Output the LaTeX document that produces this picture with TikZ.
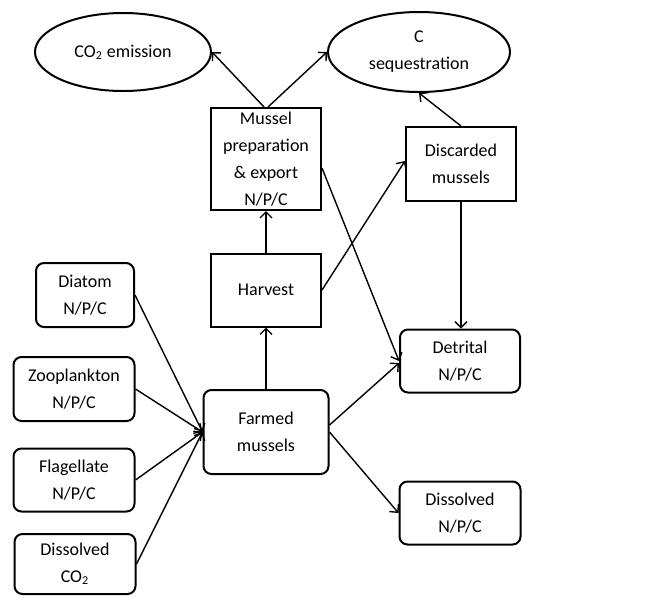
\documentclass[tikz,border=0pt]{standalone}
\usepackage{fontspec}
\setmainfont{Carlito}
\usetikzlibrary{shapes.geometric, arrows, arrows.meta}

\begin{document}
\begin{tikzpicture}[x=0.5pt, y=-0.5pt,
    every node/.style={font=\fontsize{9}{13.5}\selectfont, align=center, inner sep=0pt},
    pool/.style={draw, line width=1pt, rounded corners=4pt},
    process/.style={draw, line width=1pt},
    sink/.style={draw, ellipse, line width=1pt},
    flow/.style={-{Straight Barb[length=3pt, width=6pt]}, line width=0.7pt}]
    \useasboundingbox (0,0) rectangle (646,596);

    % Top: fates of carbon
    \node[sink, minimum width=88pt, minimum height=39pt] (emis) at (123,52) {CO\textsubscript{2} emission};
    \node[sink, minimum width=91pt, minimum height=40pt] (seq) at (419,52) {C\\sequestration};

    % Middle column
    \node[process, minimum width=55pt, minimum height=51pt] (prep) at (266,159) {Mussel\\preparation\\\& export\\N/P/C};
    \node[process, minimum width=55pt, minimum height=36.5pt] (harv) at (266,290) {Harvest};
    \node[pool, minimum width=62.5pt, minimum height=42pt] (farm) at (266,432) {Farmed\\mussels};
    \node[process, minimum width=55pt, minimum height=37pt] (disc) at (461,164) {Discarded\\mussels};

    % Food sources
    \node[pool, minimum width=49pt, minimum height=32pt] (diat) at (85,295) {Diatom\\N/P/C};
    \node[pool, minimum width=60.5pt, minimum height=32pt] (zoo) at (74,389) {Zooplankton\\N/P/C};
    \node[pool, minimum width=60.5pt, minimum height=31.5pt] (flag) at (74,480) {Flagellate\\N/P/C};
    \node[pool, minimum width=60.5pt, minimum height=30pt] (dco) at (75,564) {Dissolved\\CO\textsubscript{2}};

    % Returns to the water
    \node[pool, minimum width=60pt, minimum height=31.5pt] (detr) at (460,361) {Detrital\\N/P/C};
    \node[pool, minimum width=60.5pt, minimum height=31.5pt] (diss) at (460,513) {Dissolved\\N/P/C};

    % Fluxes
    \foreach \src in {diat, zoo, flag, dco} {
        \draw[flow] (\src.east) -- (farm.west);
    }
    \draw[flow] (farm) -- (harv);
    \draw[flow] (harv) -- (prep);
    \draw[flow] ([xshift=-1pt]prep.north) -- (emis.east);
    \draw[flow] ([xshift=1pt]prep.north) -- (seq.west);
    \draw[flow] (disc.north) -- (seq.south);
    \draw[flow] (harv.east) -- ([yshift=1.5pt]disc.west);
    \draw[flow] ([yshift=-4.5pt]prep.east) -- (detr.west);
    \draw[flow] (disc.south) -- (disc.south |- detr.north);
    \draw[flow] ([yshift=3.5pt]farm.east) -- ([yshift=-1pt]detr.west);
    \draw[flow] (farm.east) -- (diss.west);
\end{tikzpicture}
\end{document}
